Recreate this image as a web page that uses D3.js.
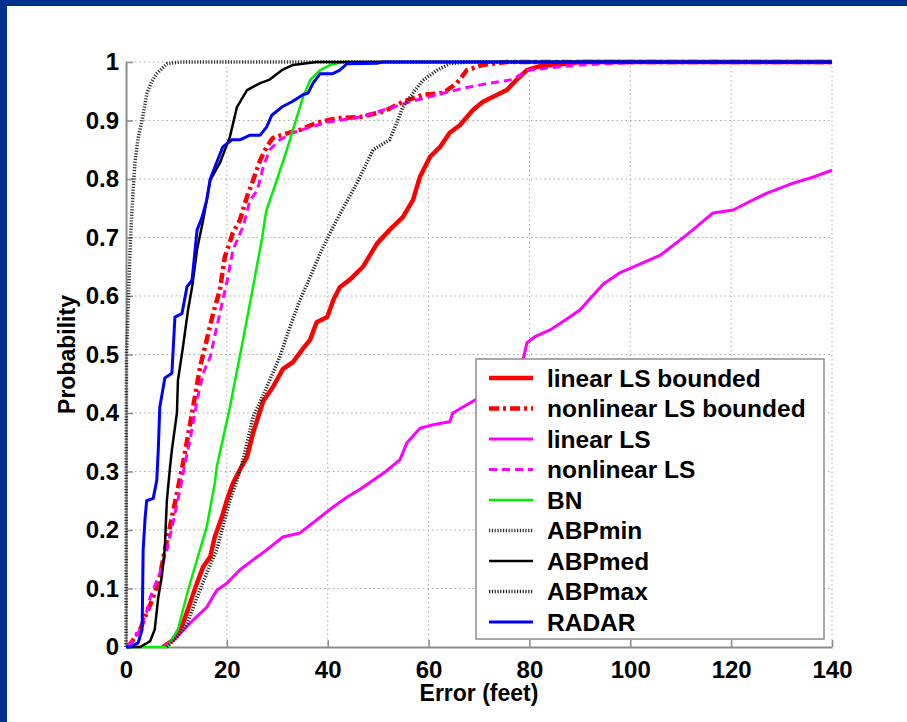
<!DOCTYPE html>
<html>
<head>
<meta charset="utf-8">
<script src="https://cdn.jsdelivr.net/npm/d3@7"></script>
<style>
    html, body { margin: 0; padding: 0; background: #fff; }
    svg { display: block; }
    text { font-family: "Liberation Sans", Arial, sans-serif; font-weight: bold; fill: #000; }
</style>
</head>
<body>
<svg id="chart" width="907" height="722"></svg>
<script>
// --- data: [error (feet), probability] ---
const seriesNames = ["linear LS bounded", "nonlinear LS bounded", "linear LS", "nonlinear LS",
    "BN", "ABPmin", "ABPmed", "ABPmax", "RADAR"];

const linearLSBounded = [[7.3,0],[9.3,0.012],[11.3,0.04],[12.7,0.075],[14.1,0.11],[15.3,0.137],[16.7,0.154],
    [17.6,0.188],[19,0.222],[20.2,0.256],[21.2,0.28],[22.6,0.303],[24,0.325],[25.2,0.366],[27.2,0.42],
    [29.1,0.444],[31.1,0.475],[33.1,0.487],[35.1,0.51],[36.5,0.525],[37.8,0.555],[39.9,0.564],[41.2,0.595],
    [42.4,0.615],[44.4,0.628],[47,0.65],[49.8,0.69],[52.3,0.713],[54.9,0.735],[56.9,0.764],[58.3,0.804],
    [60.3,0.838],[62.3,0.855],[64.2,0.879],[66.2,0.892],[68.8,0.918],[70.8,0.932],[73.6,0.944],[75.5,0.952],
    [77.5,0.97],[79.5,0.986],[82.1,0.993],[87.4,0.997],[90,1],[140,1]];

const nonlinearLSBounded = [[0.4,0],[1.4,0.012],[2.8,0.03],[4.1,0.058],[5.4,0.085],[6.7,0.12],[7.7,0.166],
    [8.7,0.205],[10.1,0.263],[11.3,0.314],[13.3,0.41],[14.7,0.479],[16,0.525],[17.3,0.571],[18.6,0.61],
    [19.6,0.667],[21.2,0.708],[22.6,0.73],[24,0.77],[25.2,0.798],[26.6,0.832],[27.9,0.855],[29.1,0.87],
    [31.1,0.876],[34.5,0.884],[37.8,0.896],[41.8,0.904],[46.4,0.906],[51,0.915],[54.9,0.932],[58.9,0.944],
    [62.9,0.947],[65.6,0.964],[67.6,0.986],[70.8,0.995],[75.5,1],[140,1]];

const linearLS = [[7.5,0],[10.1,0.017],[13.3,0.046],[16,0.068],[18,0.097],[20,0.109],[22.6,0.132],
    [25.2,0.149],[27.9,0.166],[31.1,0.188],[34.5,0.195],[37.8,0.217],[41,0.239],[43.8,0.256],[46.5,0.27],
    [49,0.285],[51.5,0.3],[54.3,0.32],[55.7,0.349],[58.3,0.374],[60.9,0.38],[64.2,0.385],[64.8,0.4],
    [67.6,0.414],[69.2,0.422],[73.5,0.45],[77,0.47],[78.7,0.49],[79.5,0.52],[81,0.53],[84.1,0.542],
    [88,0.564],[90,0.576],[94.6,0.62],[98,0.64],[102,0.655],[106,0.67],[109.9,0.696],[112.4,0.713],
    [116.4,0.742],[120.4,0.747],[123.1,0.759],[127.1,0.776],[132.3,0.793],[136.2,0.803],[140,0.815]];

const nonlinearLS = [[0.4,0],[1.4,0.012],[2.8,0.03],[4.1,0.06],[4.8,0.085],[6.7,0.126],[8.1,0.166],
    [9.3,0.212],[10.7,0.268],[11.7,0.314],[12.7,0.354],[14.1,0.422],[15.3,0.468],[16.7,0.496],[18,0.547],
    [19.2,0.593],[20.2,0.632],[21.2,0.679],[23.2,0.718],[24.6,0.764],[26,0.78],[27.2,0.82],[28.5,0.85],
    [30.5,0.867],[33.1,0.879],[35.9,0.887],[39.9,0.897],[46.4,0.906],[52.3,0.921],[56.3,0.932],
    [61.7,0.944],[66.8,0.955],[72.2,0.964],[76.7,0.97],[79.5,0.986],[84.1,0.99],[90,0.995],[98,0.998],
    [102.5,1],[140,1]];

const bn = [[0,0],[8.2,0],[10.3,0.03],[12.3,0.097],[14.1,0.15],[16,0.205],[17.6,0.28],[18,0.308],
    [20.6,0.41],[23.2,0.525],[25.2,0.616],[27,0.7],[27.8,0.745],[29.9,0.798],[31.9,0.85],[33.1,0.884],
    [35.1,0.94],[36.5,0.969],[38.5,0.986],[40.5,0.995],[43,1],[140,1]];

const abpMin = [[0,0],[0.1,0.5],[0.5,0.6],[0.9,0.7],[1.4,0.78],[1.8,0.83],[2.4,0.87],[3.2,0.9],
    [4.1,0.945],[5,0.965],[6.1,0.98],[8.1,0.997],[10.7,1],[140,1]];

const abpMed = [[0,0],[2.8,0],[4.8,0.01],[5.7,0.03],[6.4,0.085],[7.1,0.12],[7.7,0.17],[8.1,0.25],
    [8.7,0.305],[9.1,0.337],[10.1,0.4],[10.3,0.456],[11.3,0.513],[12.3,0.576],[13.1,0.615],[14.1,0.68],
    [15.3,0.73],[16,0.764],[16.7,0.798],[18.6,0.827],[20.6,0.872],[22,0.923],[24,0.952],[26.6,0.964],
    [28.5,0.97],[30.9,0.986],[33.1,0.995],[37.8,1],[140,1]];

const abpMax = [[8.1,0],[10.1,0.017],[12.1,0.04],[14.1,0.085],[16,0.126],[18,0.166],[19.2,0.205],
    [20.6,0.25],[22,0.285],[23.2,0.32],[25.2,0.393],[27.9,0.444],[30.5,0.496],[32.5,0.547],[34.5,0.593],
    [36.5,0.632],[38.5,0.673],[40.5,0.708],[42.4,0.74],[45.8,0.793],[49,0.85],[52.3,0.867],[53.7,0.896],
    [54.9,0.923],[56.9,0.947],[58.9,0.969],[61.7,0.986],[64.2,0.997],[67.6,1],[140,1]];

const radar = [[0,0],[0.8,0],[2.4,0.007],[3.2,0.03],[3.4,0.166],[3.8,0.222],[4.1,0.25],[5.4,0.254],
    [6.1,0.285],[6.4,0.337],[6.7,0.41],[7.7,0.46],[9.1,0.468],[9.7,0.564],[11.1,0.57],[12.1,0.616],
    [13.1,0.627],[14.1,0.713],[15.1,0.735],[16,0.764],[16.7,0.8],[19.2,0.855],[21,0.867],[22.6,0.867],
    [24.6,0.875],[26.6,0.875],[27.9,0.889],[28.9,0.909],[30.9,0.923],[32.9,0.932],[35.1,0.944],
    [36.1,0.947],[37.1,0.964],[38.5,0.98],[41,0.98],[42.4,0.986],[43.8,0.997],[49.8,0.998],[50.8,1],[140,1]];

const xTicks = [0, 20, 40, 60, 80, 100, 120, 140];
const yTicks = [0, 0.1, 0.2, 0.3, 0.4, 0.5, 0.6, 0.7, 0.8, 0.9, 1];

// line styles, same order as seriesNames
const styles = [
    { color: "#ff0000", width: 4.5, dash: null },
    { color: "#ff0000", width: 4.5, dash: "10,4,3,4" },
    { color: "#ff00ff", width: 3, dash: null },
    { color: "#ff00ff", width: 3, dash: "8,5" },
    { color: "#00f000", width: 2.5, dash: null },
    { color: "#333", width: 3.5, dash: "1.2,1.6" },
    { color: "#000", width: 2.5, dash: null },
    { color: "#222", width: 3.5, dash: "1.2,1.6" },
    { color: "#0000ff", width: 3, dash: null }
];

const allSeries = [linearLSBounded, nonlinearLSBounded, linearLS, nonlinearLS, bn, abpMin, abpMed, abpMax, radar];

const svg = d3.select("#chart");

// blue slide frame (top and left edges)
svg.append("rect").attr("x", 0).attr("y", 0).attr("width", 907).attr("height", 6).attr("fill", "#00318f");
svg.append("rect").attr("x", 0).attr("y", 0).attr("width", 7).attr("height", 722).attr("fill", "#00318f");

const plot = { left: 126, right: 832, top: 62, bottom: 647 };

const x = d3.scaleLinear().domain([0, 140]).range([plot.left, plot.right]);
const y = d3.scaleLinear().domain([0, 1]).range([plot.bottom, plot.top]);

// grid (dotted)
const grid = svg.append("g");
grid.selectAll("line.gx")
    .data(xTicks.filter(d => d > 0))
    .enter().append("line")
    .attr("x1", d => x(d)).attr("x2", d => x(d))
    .attr("y1", plot.top).attr("y2", plot.bottom)
    .attr("stroke", "#a8a8a8").attr("stroke-width", 1).attr("stroke-dasharray", "1.5,3");
grid.selectAll("line.gy")
    .data(yTicks.filter(d => d > 0))
    .enter().append("line")
    .attr("x1", plot.left).attr("x2", plot.right)
    .attr("y1", d => y(d)).attr("y2", d => y(d))
    .attr("stroke", "#a8a8a8").attr("stroke-width", 1).attr("stroke-dasharray", "1.5,3");

// axes: ticks point inward, no box on top/right
const xAxis = svg.append("g")
    .attr("transform", `translate(0,${plot.bottom})`)
    .call(d3.axisBottom(x).tickValues(xTicks).tickSizeInner(-7).tickSizeOuter(0).tickPadding(14)
        .tickFormat(d3.format("d")));
const yAxis = svg.append("g")
    .attr("transform", `translate(${plot.left},0)`)
    .call(d3.axisLeft(y).tickValues(yTicks).tickSizeInner(-7).tickSizeOuter(0).tickPadding(7)
        .tickFormat(d => d === 0 || d === 1 ? String(d) : d.toFixed(1)));

[xAxis, yAxis].forEach(a => {
    a.select(".domain").attr("stroke", "#8c8c8c").attr("stroke-width", 2);
    a.selectAll(".tick line").attr("stroke", "#8c8c8c").attr("stroke-width", 1.5);
    a.selectAll(".tick text").attr("font-size", "24px").attr("fill", "#000")
        .style("font-family", "'Liberation Sans', Arial, sans-serif").style("font-weight", "bold");
});
xAxis.selectAll(".tick text").attr("dy", "0.71em");

// curves
const line = d3.line().x(d => x(d[0])).y(d => y(d[1]));
const curves = svg.append("g");
allSeries.forEach((data, i) => {
    const s = styles[i];
    curves.append("path")
        .datum(data)
        .attr("d", line)
        .attr("fill", "none")
        .attr("stroke", s.color)
        .attr("stroke-width", s.width)
        .attr("stroke-linejoin", "round")
        .attr("stroke-dasharray", s.dash);
});

// axis labels
svg.append("text")
    .attr("x", (plot.left + plot.right) / 2).attr("y", 701)
    .attr("text-anchor", "middle").attr("font-size", "23px")
    .text("Error (feet)");
svg.append("text")
    .attr("transform", `translate(75,${(plot.top + plot.bottom) / 2}) rotate(-90)`)
    .attr("text-anchor", "middle").attr("font-size", "23px")
    .text("Probability");

// legend
const legend = svg.append("g");
legend.append("rect")
    .attr("x", 476).attr("y", 359).attr("width", 348).attr("height", 280)
    .attr("fill", "#fff").attr("stroke", "#8c8c8c").attr("stroke-width", 1.5);

const rowY = d3.scalePoint().domain(seriesNames).range([378, 622]);
seriesNames.forEach((name, i) => {
    const s = styles[i];
    const yy = rowY(name);
    legend.append("line")
        .attr("x1", 489).attr("x2", 533).attr("y1", yy).attr("y2", yy)
        .attr("stroke", s.color).attr("stroke-width", s.width)
        .attr("stroke-dasharray", s.dash);
    legend.append("text")
        .attr("x", 547).attr("y", yy).attr("dy", "0.35em")
        .attr("font-size", "24.5px")
        .text(name);
});
</script>
</body>
</html>
